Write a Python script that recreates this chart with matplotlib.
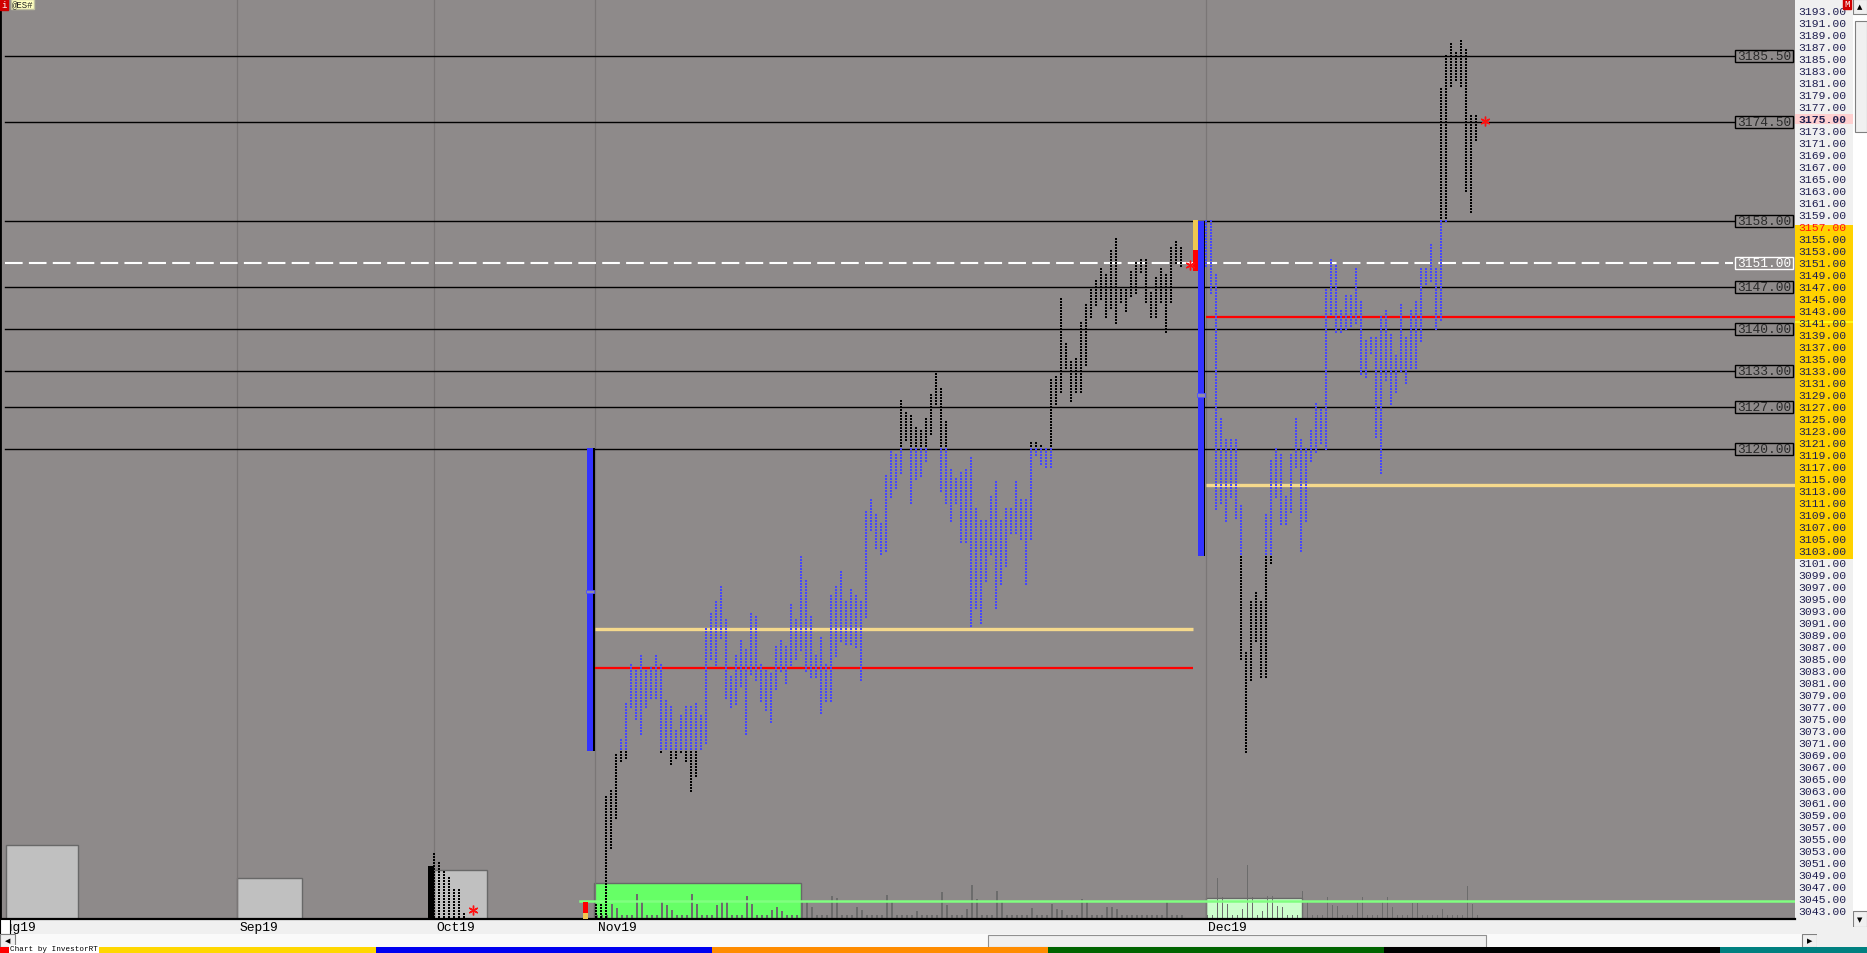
import numpy as np
import matplotlib
matplotlib.use("Agg")
import matplotlib.pyplot as plt
from matplotlib.patches import Rectangle
from matplotlib import transforms

plt.rcParams["font.family"] = ["Liberation Mono", "DejaVu Sans Mono"]
plt.rcParams["lines.scale_dashes"] = False

# ---------------- data ----------------
# TPO columns, price high / low of every column
nov_hi = [3044.25, 3044.0, 3062.25, 3063.25, 3069.25, 3071.75, 3077.75, 3084.0, 3083.25, 3085.75,
          3083.0, 3083.5, 3085.5, 3084.25, 3078.25, 3077.25, 3073.0, 3075.75, 3077.25, 3077.25,
          3077.75, 3075.75, 3090.0, 3092.75, 3094.75, 3097.25, 3091.5, 3082.25, 3085.5, 3088.25,
          3086.5, 3092.75, 3092.25, 3084.25, 3083.25, 3082.5, 3087.25, 3088.25, 3087.0, 3094.25,
          3091.75, 3102.25, 3098.25, 3092.25, 3085.5, 3088.5, 3084.0, 3095.75, 3097.25, 3099.75,
          3094.75, 3096.75, 3095.75, 3094.75, 3109.5, 3111.75, 3109.0, 3107.75, 3115.75, 3119.75,
          3119.0, 3128.0, 3126.25, 3125.75, 3123.75, 3123.25, 3125.25, 3129.25, 3132.75, 3130.0,
          3124.75, 3116.75, 3115.25, 3116.25, 3116.75, 3118.75, 3110.0, 3108.0, 3108.25, 3112.25,
          3114.75, 3108.25, 3110.0, 3110.0, 3114.75, 3111.75, 3111.75, 3121.25, 3121.25, 3120.75,
          3120.25, 3131.5, 3132.25, 3145.25, 3137.75, 3134.75, 3135.25, 3141.25, 3144.25, 3146.75,
          3148.25, 3150.25, 3149.25, 3153.25, 3155.25, 3146.75, 3146.75, 3149.75, 3151.25, 3151.75,
          3151.75, 3146.25, 3148.75, 3150.25, 3149.25, 3153.75, 3154.75, 3153.75]
nov_lo = [3041.5, 3041.5, 3041.5, 3053.5, 3058.5, 3067.75, 3068.5, 3076.75, 3075.0, 3072.5,
          3077.0, 3078.5, 3078.5, 3069.5, 3070.0, 3067.5, 3068.5, 3069.5, 3068.0, 3063.0,
          3065.5, 3070.0, 3071.0, 3085.0, 3084.0, 3088.5, 3078.5, 3076.75, 3077.25, 3080.5,
          3072.5, 3082.5, 3081.5, 3078.0, 3076.5, 3074.5, 3080.0, 3083.0, 3081.0, 3084.0,
          3085.0, 3086.25, 3083.0, 3082.0, 3081.75, 3075.75, 3078.0, 3078.0, 3085.5, 3088.0,
          3087.5, 3087.5, 3087.0, 3081.5, 3091.75, 3106.5, 3103.5, 3102.5, 3103.0, 3111.75,
          3113.5, 3116.0, 3121.5, 3111.0, 3115.0, 3115.5, 3118.0, 3122.25, 3127.5, 3112.75,
          3111.0, 3108.0, 3111.0, 3104.5, 3104.5, 3090.5, 3093.5, 3091.0, 3098.0, 3102.5,
          3093.5, 3097.25, 3100.5, 3106.0, 3106.0, 3105.0, 3097.5, 3105.0, 3118.75, 3117.25,
          3117.0, 3116.75, 3127.25, 3129.25, 3133.25, 3128.0, 3129.5, 3129.5, 3134.0, 3141.75,
          3144.0, 3145.0, 3142.0, 3143.5, 3141.0, 3144.25, 3142.75, 3145.5, 3146.0, 3149.5,
          3144.5, 3142.0, 3141.75, 3144.5, 3139.5, 3144.25, 3151.0, 3150.5]

dec_hi = [3158.0, 3158.25, 3149.25, 3125.0, 3121.5, 3121.75, 3121.5, 3110.75, 3086.25, 3094.75,
          3096.25, 3094.75, 3109.0, 3118.0, 3120.0, 3119.0, 3112.25, 3119.25, 3125.0, 3121.5,
          3120.0, 3123.25, 3127.75, 3126.75, 3146.75, 3151.5, 3150.75, 3143.25, 3145.75, 3145.75,
          3150.0, 3144.75, 3138.25, 3138.75, 3138.75, 3142.25, 3143.25, 3139.25, 3135.75, 3144.0,
          3138.75, 3143.25, 3144.75, 3150.0, 3150.25, 3154.0, 3150.25, 3180.25, 3185.75, 3187.75,
          3186.25, 3188.25, 3186.75, 3175.75, 3175.75]
dec_lo = [3150.25, 3146.0, 3110.0, 3111.0, 3108.0, 3111.75, 3108.5, 3085.0, 3069.5, 3081.5,
          3088.0, 3082.0, 3081.75, 3101.0, 3111.75, 3107.25, 3107.5, 3109.25, 3116.75, 3103.0,
          3108.0, 3118.0, 3119.5, 3121.0, 3120.0, 3142.5, 3139.5, 3139.5, 3140.0, 3140.5,
          3141.0, 3132.5, 3132.0, 3136.0, 3121.75, 3116.0, 3131.5, 3127.5, 3129.5, 3133.0,
          3131.0, 3133.5, 3133.5, 3138.0, 3147.5, 3148.0, 3140.0, 3141.5, 3157.75, 3180.5,
          3181.5, 3180.5, 3163.0, 3159.5, 3171.5]

oct_hi = [3052.5, 3051.25, 3049.5, 3048.75, 3046.5, 3046.5, 3042.75]
oct_lo = [3041.5] * 7

# value areas, POC and second reference line per month
nov_val, nov_vah = 3069.75, 3120.25
dec_val, dec_vah = 3102.25, 3158.0
nov_poc, nov_ref = 3083.5, 3090.0
dec_poc, dec_ref = 3142.0, 3114.0
nov_mid, dec_mid = 3096.25, 3129.0
oct_bar = (3041.25, 3050.5)
nov_open_bar = [(3042.75, 3044.5, "#ff0000"), (3041.25, 3042.75, "#f0c850")]
dec_open_bar = [(3153.25, 3158.25, "#f0c850"), (3149.75, 3153.25, "#ff0000")]
closes = {"oct": 3043.25, "nov": 3150.75, "dec": 3174.75}

# reference levels
levels = [3185.5, 3174.5, 3158.0, 3147.0, 3140.0, 3133.0, 3127.0, 3120.0]
dashed_level = 3151.0

# volume per column
nov_vol = [4, 4, 4, 15, 11, 4, 4, 4, 25, 17, 4, 4, 4, 17, 14, 9, 4, 4, 4, 25,
           15, 4, 4, 4, 14, 17, 17, 4, 4, 4, 23, 15, 4, 4, 4, 9, 12, 8, 4, 4,
           4, 17, 17, 12, 4, 4, 4, 23, 21, 4, 4, 4, 12, 9, 4, 4, 4, 4, 24, 17,
           4, 4, 4, 4, 8, 4, 4, 4, 4, 27, 14, 4, 4, 4, 10, 34, 20, 4, 4, 4,
           28, 17, 4, 4, 4, 4, 4, 11, 4, 4, 4, 15, 10, 9, 4, 4, 4, 20, 17, 4,
           4, 4, 12, 12, 10, 4, 4, 4, 4, 4, 4, 4, 4, 4, 17, 4, 4, 4]
dec_vol = [4, 4, 41, 22, 15, 4, 4, 10, 54, 22, 4, 8, 23, 23, 13, 12, 4, 4, 4, 28,
           18, 4, 4, 4, 22, 14, 13, 4, 4, 4, 18, 22, 4, 4, 4, 18, 22, 12, 4, 4,
           4, 16, 16, 4, 4, 4, 4, 10, 4, 4, 4, 4, 33, 15, 4]
month_vol = {"Aug19": 74, "Sep19": 41, "Oct19": 49, "Nov19": 36, "Dec19": 21}
avg_vol = 18.3

months = ["Aug19", "Sep19", "Oct19", "Nov19", "Dec19"]
month_start = {"Aug19": -120.3, "Sep19": -71.7, "Oct19": -32.4, "Nov19": -0.1, "Dec19": 122.0}
month_box = {"Aug19": (-118.0, 14.4), "Sep19": (-71.7, 13.0), "Oct19": (-32.3, 10.6),
             "Nov19": (-0.26, 41.4), "Dec19": (122.0, 19.3)}
price_ticks = np.arange(3043, 3194, 2)

# ---------------- styling ----------------
W, H = 1867, 954
BG = "#8e8a8a"
BLUE = "#4646ff"
VA_BLUE = "#3333ff"
TXT = "#1e1e50"
col_off = 0.15

fig = plt.figure(figsize=(W / 100, H / 100), dpi=100)
rect = [0, 34 / H, 1795 / W, 920 / H]
ax_v = fig.add_axes(rect)
ax = fig.add_axes(rect, sharex=ax_v)
ax_v.set_zorder(0)
ax.set_zorder(1)
ax.patch.set_visible(False)
ax_v.set_facecolor(BG)
ax_v.set_xlim(-119.14, 239.86)
ax_v.set_ylim(0, 920)
ax.set_ylim(3193 - 908 / 6, 3195)
for a in (ax, ax_v):
    a.set_xticks([])
    a.set_yticks([])
    for s in a.spines.values():
        s.set_visible(False)
ax_v.spines["left"].set_visible(True)
ax_v.spines["left"].set_color("black")
ax_v.spines["left"].set_linewidth(2)

# month separators
for m in months[1:]:
    ax_v.axvline(month_start[m], color="#7a7676", lw=0.9)

# volume boxes and bars
box_fill = {"Aug19": "#c0c0c0", "Sep19": "#c0c0c0", "Oct19": "#c0c0c0",
            "Nov19": "#66ff66", "Dec19": "#ccffcc"}
for m in months:
    x0, w = month_box[m]
    ax_v.bar(x0, month_vol[m], width=w, align="edge", color=box_fill[m],
             edgecolor="#686868", linewidth=1.0)
nov_x = month_start["Nov19"] + col_off + np.arange(len(nov_hi))
dec_x = month_start["Dec19"] + col_off + np.arange(len(dec_hi))
oct_x = month_start["Oct19"] + col_off + np.arange(len(oct_hi))
ax_v.bar(nov_x + 0.2, nov_vol, width=0.36, color="#6c6c6c")
ax_v.bar(dec_x + 0.2, dec_vol, width=0.36, color="#6c6c6c")
ax_v.axhline(avg_vol, xmin=580 / 1795, xmax=1, color="#80ff80", lw=1.8)


def tpo_dots(xs, highs, lows, val=None, vah=None):
    pts_in, pts_out = [], []
    for x, hi, lo in zip(xs, highs, lows):
        prices = np.arange(np.ceil(lo * 2) / 2, hi + 0.01, 0.5)
        for p in prices:
            if val is not None and val <= p <= vah:
                pts_in.append((x, p))
            else:
                pts_out.append((x, p))
    return np.array(pts_in).reshape(-1, 2), np.array(pts_out).reshape(-1, 2)


for xs, hi, lo, va in [(nov_x, nov_hi, nov_lo, (nov_val, nov_vah)),
                       (dec_x, dec_hi, dec_lo, (dec_val, dec_vah)),
                       (oct_x, oct_hi, oct_lo, (None, None))]:
    inside, outside = tpo_dots(xs, hi, lo, *va)
    if len(inside):
        ax.scatter(inside[:, 0], inside[:, 1], s=2.1, marker="s", color=BLUE,
                   linewidths=0, zorder=4)
    ax.scatter(outside[:, 0], outside[:, 1], s=2.1, marker="s", color="black",
               linewidths=0, zorder=4)

# month value-area bars
for m, val, vah, mid, opens in [("Nov19", nov_val, nov_vah, nov_mid, nov_open_bar),
                                ("Dec19", dec_val, dec_vah, dec_mid, dec_open_bar)]:
    s0 = month_start[m]
    ax.bar(s0 - 0.99, vah - val, bottom=val, width=1.14, color=VA_BLUE, zorder=5)
    ax.bar(s0 - 0.24, vah - val, bottom=val, width=0.36, color="black", zorder=5)
    ax.bar(s0 - 1.0, 0.6, bottom=mid - 0.3, width=1.6, color="#8e8aa8",
           edgecolor="#5050ff", linewidth=0.6, zorder=6)
    for lo, hi, c in opens:
        ax.bar(s0 - 2.04, hi - lo, bottom=lo, width=1.0, color=c, zorder=5)
ax.bar(month_start["Oct19"] - 0.52, oct_bar[1] - oct_bar[0], bottom=oct_bar[0],
       width=1.2, color="black", zorder=5)

# POC and reference lines
ax.hlines(nov_ref, month_start["Nov19"], month_start["Dec19"] - 2.5, color="#f5d98c", lw=2.4, zorder=3)
ax.hlines(nov_poc, month_start["Nov19"], month_start["Dec19"] - 2.5, color="#ff0000", lw=1.6, zorder=3)
ax.hlines(dec_ref, month_start["Dec19"], 239.86, color="#f5d98c", lw=2.4, zorder=3)
ax.hlines(dec_poc, month_start["Dec19"], 239.86, color="#ff0000", lw=1.6, zorder=3)

# close markers
for m, xs, key in [("Oct19", oct_x, "oct"), ("Nov19", nov_x, "nov"), ("Dec19", dec_x, "dec")]:
    ax.plot(xs[-1] + 1.8, closes[key], marker=(6, 2, 0), ms=7, mew=1.0,
            color="#ff1010", zorder=7)

# reference levels with boxed labels
lbl_tr = transforms.blended_transform_factory(ax.transAxes, ax.transData)
for p in levels:
    ax.axhline(p, xmin=5 / 1795, xmax=1735 / 1795, color="black", lw=1.0, zorder=2)
ax.axhline(dashed_level, xmin=5 / 1795, xmax=1733 / 1795, color="white", lw=1.5,
           linestyle=(0, (12.7, 4.5)), zorder=2)
for p, ec in [(q, "black") for q in levels] + [(dashed_level, "white")]:
    ax.add_patch(Rectangle((1735 / 1795, p - 0.98), 58 / 1795, 1.96, transform=lbl_tr,
                           facecolor=BG, edgecolor=ec, lw=1.0, zorder=8))
    ax.text(1764 / 1795, p, f"{p:.2f}", transform=lbl_tr, ha="center", va="center",
            fontsize=9.3, color="#2a2a2a" if ec == "black" else "white", zorder=9)

# ---------------- price panel ----------------
ax_p = fig.add_axes([1795 / W, 34 / H, 58 / W, 920 / H], sharey=ax)
ax_p.set_facecolor("#f0f0f0")
ax_p.set_xlim(0, 1)
ax_p.axhspan(3101.75, 3157.3, color="#ffd200", lw=0)
ax_p.axhspan(3174.2, 3175.85, color="#ffd0d0", lw=0)
ax_p.axhline(3141.2, color="#ffff20", lw=1.2)
for p in price_ticks:
    color = "#ff1010" if p == 3157 else TXT
    weight = "bold" if p == 3175 else "normal"
    ax_p.text(0.06, p, f"{p:.2f}", ha="left", va="center", fontsize=8.2,
              color=color, fontweight=weight)
ax_p.set_xticks([])
ax_p.tick_params(left=False, labelleft=False)
for s in ax_p.spines.values():
    s.set_visible(False)

# vertical scrollbar
ax_s = fig.add_axes([1853 / W, 26 / H, 14 / W, 928 / H])
ax_s.set_facecolor("#f6f6f6")
ax_s.set_xlim(0, 14)
ax_s.set_ylim(928, 0)
ax_s.add_patch(Rectangle((0, 0), 14, 15, facecolor="#f0f0f0", edgecolor="#808080", lw=0.8))
ax_s.add_patch(Rectangle((1.5, 21.5), 12, 111.5, facecolor="#f0f0f0", edgecolor="#808080", lw=0.8))
ax_s.add_patch(Rectangle((0, 912), 14, 16, facecolor="#f0f0f0", edgecolor="#808080", lw=0.8))
ax_s.text(7, 7.5, "▲", ha="center", va="center", fontsize=5, family="DejaVu Sans")
ax_s.text(7, 920, "▼", ha="center", va="center", fontsize=5, family="DejaVu Sans")
ax_s.axis("off")
ax_s.patch.set_visible(True)
fig.text(1847 / W, 1 - 4.5 / H, "M", ha="center", va="center", fontsize=6.5, color="white",
         bbox=dict(boxstyle="square,pad=0.1", fc="#d00000", ec="#d00000"))

# ---------------- date band ----------------
ax_d = fig.add_axes([0, 19 / H, 1795 / W, 15 / H], sharex=ax_v)
ax_d.set_facecolor("#f0f0f0")
ax_d.set_ylim(0, 1)
ax_d.set_xticks([])
ax_d.set_yticks([])
for k, s in ax_d.spines.items():
    s.set_visible(k == "top")
ax_d.spines["top"].set_linewidth(1.6)
date_tr = transforms.offset_copy(ax_d.transData, fig=fig, x=2.6, y=0, units="dots")
for m in months:
    ax_d.text(month_start[m], 0.45, m, transform=date_tr, ha="left", va="center",
              fontsize=9.4, color="black", clip_on=True)
ax_d.add_patch(Rectangle((0, 0), 9.6 / 1795, 1, transform=ax_d.transAxes,
                         facecolor="white", edgecolor="black", lw=0.8, zorder=5))
fig.add_artist(Rectangle((1795 / W, 0), 72 / W, 34 / H, transform=fig.transFigure,
                         facecolor="#f0f0f0", edgecolor="none", zorder=-1))

# horizontal scrollbar
ax_h = fig.add_axes([0, 6 / H, 1867 / W, 13 / H])
ax_h.set_xlim(0, W)
ax_h.set_ylim(13, 0)
ax_h.set_facecolor("#fafafa")
ax_h.add_patch(Rectangle((0, 0), 15, 13, facecolor="#f0f0f0", edgecolor="#808080", lw=0.8))
ax_h.add_patch(Rectangle((988, 0.5), 498, 12, facecolor="#f0f0f0", edgecolor="#909090", lw=0.8))
ax_h.add_patch(Rectangle((1802, 0), 15, 13, facecolor="#f0f0f0", edgecolor="#808080", lw=0.8))
ax_h.add_patch(Rectangle((1817, 0), 50, 13, facecolor="#f0f0f0", edgecolor="none"))
ax_h.text(7.5, 6.5, "◀", ha="center", va="center", fontsize=5, family="DejaVu Sans")
ax_h.text(1809.5, 6.5, "▶", ha="center", va="center", fontsize=5, family="DejaVu Sans")
ax_h.set_xticks([])
ax_h.set_yticks([])
for s in ax_h.spines.values():
    s.set_visible(False)

# colour stripe at the very bottom
stripe = [(0, 40, "#ff0000"), (40, 376, "#ffd700"), (376, 712, "#0000f0"),
          (712, 1048, "#ff8c00"), (1048, 1384, "#006400"), (1384, 1720, "#000000"),
          (1720, 1867, "#008080")]
ax_c = fig.add_axes([0, 0, 1, 6 / H])
ax_c.set_xlim(0, W)
ax_c.set_ylim(0, 1)
for x0, x1, c in stripe:
    ax_c.add_patch(Rectangle((x0, 0), x1 - x0, 1, facecolor=c, edgecolor="none"))
ax_c.axis("off")
fig.text(10 / W, 4 / H, "Chart by InvestorRT", fontsize=5.5, color="black", va="center",
         bbox=dict(boxstyle="square,pad=0.1", fc="white", ec="none"))

# top-left badges
fig.text(1 / W, 1 - 5 / H, "i", fontsize=6.5, color="white", va="center", ha="left",
         bbox=dict(boxstyle="square,pad=0.15", fc="#d00000", ec="#d00000"))
fig.text(12 / W, 1 - 5 / H, "@ES#", fontsize=6.5, color="#202020", va="center", ha="left",
         bbox=dict(boxstyle="square,pad=0.1", fc="#ffffc0", ec="#c0c0a0"))

fig.savefig("out.png", dpi=100)
